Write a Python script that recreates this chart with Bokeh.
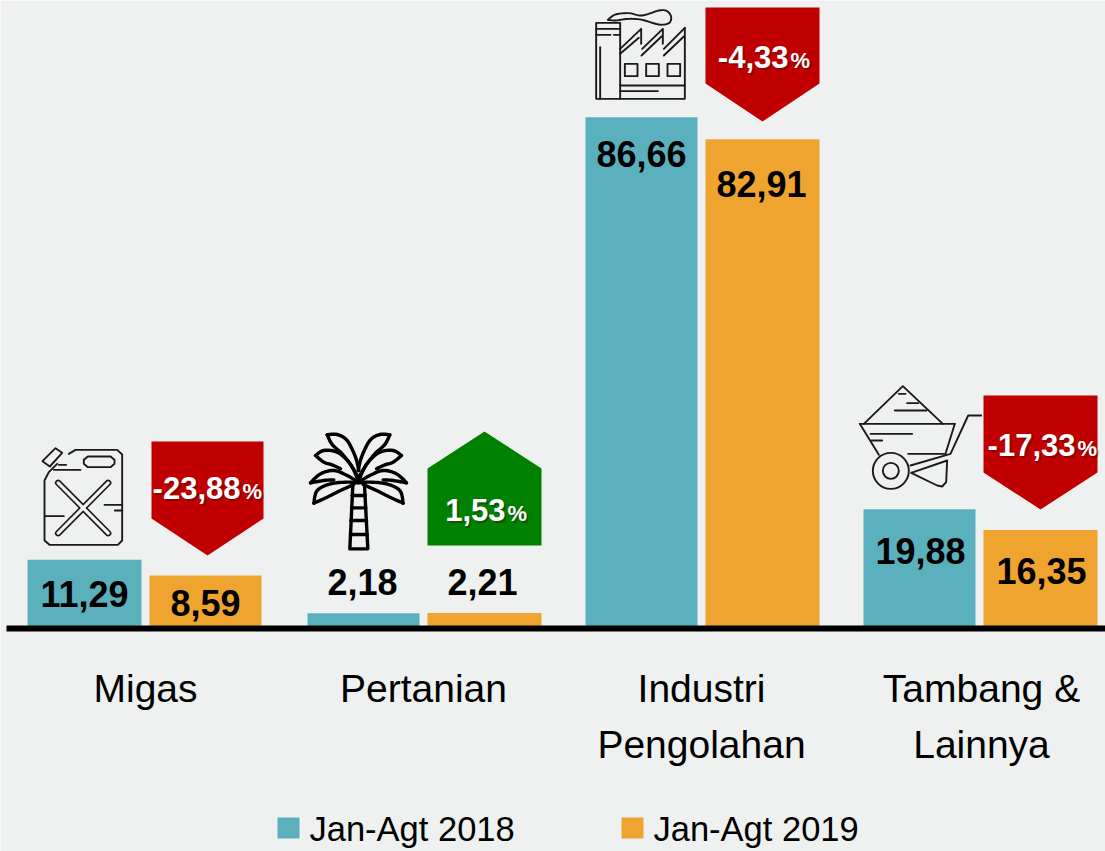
from bokeh.plotting import figure
from bokeh.models import Range1d
from bokeh.embed import file_html
from bokeh.resources import INLINE
from bokeh.core.properties import value

categories = ["Migas", "Pertanian", "Industri\nPengolahan", "Tambang &\nLainnya"]
series_2018 = [11.29, 2.18, 86.66, 19.88]
series_2019 = [8.59, 2.21, 82.91, 16.35]
labels_2018 = ["11,29", "2,18", "86,66", "19,88"]
labels_2019 = ["8,59", "2,21", "82,91", "16,35"]
change_labels = ["-23,88", "1,53", "-4,33", "-17,33"]
legend_names = ["Jan-Agt 2018", "Jan-Agt 2019"]

TEAL, ORANGE, RED, GREEN, BG = "#5AB0BC", "#EFA430", "#C00000", "#008000", "#EFF1F0"
FONT = value("Liberation Sans")
W, H = 1105, 851
BASE, SCALE = 625.5, 5.87
BASELINE_SHIFT = 0.4


def py(v):
    return (BASE - v) / SCALE


p = figure(width=W, height=H, output_backend="svg", toolbar_location=None,
           x_range=Range1d(0, W), y_range=Range1d(py(H), py(0)),
           x_axis_type="linear", min_border=0, outline_line_color=None,
           background_fill_color=BG, border_fill_color=BG)
p.grid.visible = False
p.xaxis.visible = False
p.yaxis.visible = False

left_2018 = [27, 307, 585, 863]
right_2018 = [141, 419, 697, 975]
left_2019 = [149, 427, 705, 983]
right_2019 = [261, 541, 819, 1097]
p.quad(left=left_2018, right=right_2018, bottom=0, top=series_2018, fill_color=TEAL, line_color=None)
p.quad(left=left_2019, right=right_2019, bottom=0, top=series_2019, fill_color=ORANGE, line_color=None)
p.quad(left=[6], right=[1105], top=[py(625)], bottom=[py(631)], fill_color="black", line_color=None)

# change flags
flags = [
    ([151, 263, 263, 207, 151], [441, 441, 518, 555, 518], RED),
    ([427, 484, 541, 541, 427], [468, 431, 468, 545, 545], GREEN),
    ([705, 819, 819, 762, 705], [7, 7, 83, 121, 83], RED),
    ([983, 1097, 1097, 1040, 983], [395, 395, 472, 509, 472], RED),
]
for xs, ys, c in flags:
    p.patch(xs, [py(v) for v in ys], fill_color=c, line_color=None)


def txt(x, y, s, size, color="black", bold=False, align="center", alpha=1.0):
    p.text([x], [py(y - BASELINE_SHIFT * size)], text=[s], text_font=FONT, text_font_size=f"{size}px",
           text_color=color, text_alpha=alpha, text_align=align, text_baseline="alphabetic",
           text_font_style="bold" if bold else "normal")


# values
pos_2018 = [(84, 608), (362, 596), (641, 168), (920, 565)]
pos_2019 = [(205, 617), (482, 596), (761, 198), (1041, 585)]
for (x, y), s in zip(pos_2018, labels_2018):
    txt(x, y, s, 36, bold=True)
for (x, y), s in zip(pos_2019, labels_2019):
    txt(x, y, s, 36, bold=True)

# percentage labels
pct_pos = [(240, 500), (505, 522), (788, 69), (1075, 457)]
for (x, y), s in zip(pct_pos, change_labels):
    for dx, col, a in ((2, "#300000", 0.35), (0, "white", 1.0)):
        txt(x + dx, y + dx, s, 31, color=col, bold=True, align="right", alpha=a)
        txt(x + 2 + dx, y + dx, "%", 22, color=col, bold=True, align="left", alpha=a)

# categories
cat_x = [145, 423, 701, 981]
for x, name in zip(cat_x, categories):
    for i, line in enumerate(name.split("\n")):
        txt(x, 704 + 56 * i, line, 39)

# legend
for x0, x1, col, tx, name in ((277, 299, TEAL, 309, legend_names[0]), (621, 643, ORANGE, 653, legend_names[1])):
    p.quad(left=[x0], right=[x1], top=[py(817)], bottom=[py(838)], fill_color=col, line_color=None)
    txt(tx, 842, name, 34.5, align="left")


def smooth(path, n=6):
    if len(path) < 3:
        return path
    pts = [path[0]] + list(path) + [path[-1]]
    out = []
    for i in range(1, len(pts) - 2):
        p0, p1, p2, p3 = pts[i - 1], pts[i], pts[i + 1], pts[i + 2]
        for k in range(n):
            t = k / n
            out.append(tuple(
                0.5 * (2 * p1[d] + (p2[d] - p0[d]) * t + (2 * p0[d] - 5 * p1[d] + 4 * p2[d] - p3[d]) * t ** 2
                       + (3 * p1[d] - p0[d] - 3 * p2[d] + p3[d]) * t ** 3) for d in (0, 1)))
    out.append(path[-1])
    return out


# icons (sketched in zoom-crop coordinates: origin + value / 3)
def draw(origin, paths, width=1.9, color="#1a1a1a"):
    ox, oy = origin
    xs = [[ox + a / 3 for a, _ in path] for path in paths]
    ys = [[py(oy + b / 3) for _, b in path] for path in paths]
    p.multi_line(xs, ys, line_color=color, line_width=width, line_join="round", line_cap="round")


# jerry can
CAN = (0, 420)
draw(CAN, [
    [(205, 100), (225, 88), (350, 88), (365, 102), (365, 360), (352, 373), (147, 373), (132, 360), (132, 180), (145, 155), (170, 130)],
    [(126, 122), (165, 83), (185, 97), (148, 138), (126, 122)],
    [(175, 133), (197, 133)], [(160, 148), (240, 148)],
    [(262, 108), (330, 108), (342, 118), (342, 130), (330, 140), (262, 140), (250, 130), (250, 118), (262, 108)],
    [(133, 287), (190, 287)], [(312, 253), (365, 253)], [(343, 270), (365, 270)],
])
cross = [[(173, 187), (323, 338)], [(323, 187), (173, 338)]]
draw(CAN, cross, width=6.5)
draw(CAN, cross, width=3.2, color=BG)

# palm
PALM = (290, 420)
left_fronds = [
    [(110, 43), (140, 42), (170, 60), (195, 110), (205, 150)],
    [(110, 43), (125, 72), (155, 100), (185, 140), (203, 180)],
    [(75, 105), (100, 90), (140, 95), (175, 125), (203, 170)],
    [(75, 105), (100, 125), (125, 133), (150, 145)],
    [(60, 187), (90, 160), (130, 150), (170, 165), (203, 185)],
    [(60, 187), (100, 180), (130, 178)],
    [(70, 248), (80, 210), (120, 190), (170, 185), (203, 187)],
    [(70, 248), (110, 230), (150, 210), (190, 192)],
]
right_fronds = [[(408 - a, b) for a, b in path] for path in left_fronds]
trunk = [[(187, 195), (178, 385), (232, 385), (222, 195)],
         [(185, 225), (224, 225)], [(183, 262), (226, 262)], [(181, 300), (228, 300)], [(180, 342), (230, 342)]]
draw(PALM, [smooth(f) for f in left_fronds + right_fronds] + trunk, width=3.4, color="black")

# factory
FACT = (575, 0)
draw(FACT, [
    [(62, 67), (134, 67), (134, 295), (62, 295), (62, 67)],
    [(62, 85), (134, 85)], [(62, 103), (105, 103)], [(115, 103), (134, 103)], [(74, 140), (74, 295)],
    [(134, 295), (328, 295), (328, 82)],
    [(134, 145), (197, 85), (197, 130)], [(200, 145), (262, 85), (262, 130)], [(265, 145), (328, 82)],
    [(134, 160), (190, 112)], [(198, 165), (258, 108)], [(265, 165), (325, 108)],
    [(134, 255), (328, 255)], [(134, 272), (247, 272)],
    [(148, 190), (186, 190), (186, 227), (148, 227), (148, 190)],
    [(212, 190), (250, 190), (250, 227), (212, 227), (212, 190)],
    [(276, 190), (314, 190), (314, 227), (276, 227), (276, 190)],
    smooth([(97, 58), (120, 42), (160, 38), (200, 45), (250, 30), (275, 32), (287, 50), (280, 68), (250, 72), (200, 58), (160, 55), (120, 60), (97, 58)]),
])

# wheelbarrow
BARROW = (845, 375)
draw(BARROW, [
    [(55, 145), (172, 32), (292, 145)],
    [(160, 55), (180, 55)], [(185, 83), (218, 83)], [(148, 105), (243, 105)],
    [(43, 145), (328, 145)], [(43, 145), (100, 238)], [(328, 145), (300, 235)],
    [(75, 175), (200, 175)], [(78, 195), (110, 195)], [(188, 235), (298, 235)],
    [(195, 270), (315, 235), (368, 120), (407, 120)],
    [(197, 292), (305, 255), (302, 320), (290, 333), (275, 330), (197, 292)],
])
p.scatter([845 + 136 / 3] * 2, [py(375 + 286 / 3)] * 2, size=[36, 16], marker="circle",
          fill_color=None, line_color="#1a1a1a", line_width=1.9)

open("out.html", "w").write(file_html(p, INLINE))
